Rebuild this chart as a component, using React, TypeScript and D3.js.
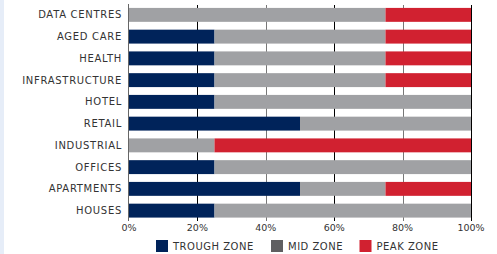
import React, { useEffect, useRef } from "react";
import * as d3 from "d3";

const categories = ["DATA CENTRES", "AGED CARE", "HEALTH", "INFRASTRUCTURE", "HOTEL", "RETAIL", "INDUSTRIAL", "OFFICES", "APARTMENTS", "HOUSES"];
const trough = [0, 25, 25, 25, 25, 50, 0, 25, 50, 25];
const mid = [75, 50, 50, 50, 75, 50, 25, 75, 25, 75];
const peak = [25, 25, 25, 25, 0, 0, 75, 0, 25, 0];
const ticks = [0, 20, 40, 60, 80, 100];
const zones = ["TROUGH ZONE", "MID ZONE", "PEAK ZONE"];

const W = 497, H = 254;
const FONT = "'DejaVu Sans', sans-serif";

export default function App() {
  const ref = useRef<SVGSVGElement>(null);

  useEffect(() => {
    const svg = d3.select(ref.current);
    svg.selectAll("*").remove();

    // light strip on the left edge
    svg.append("rect").attr("x", 0).attr("y", 0).attr("width", 4).attr("height", H).attr("fill", "#e6edf8");

    const x = d3.scaleLinear().domain([0, 100]).range([129, 471]);
    const y = d3.scaleBand().domain(categories).range([4, 221.5]).paddingInner(0.36).paddingOuter(0.18);

    const barCols = ["#00235a", "#a0a1a4", "#d12130"];
    const legendCols = ["#00235a", "#5f5f61", "#d12130"];

    const rows = categories.map((c, i) => ({ c, vals: [trough[i], mid[i], peak[i]] }));

    // gridlines
    svg.append("g").selectAll("line").data(ticks.slice(1)).enter().append("line")
      .attr("x1", d => Math.round(x(d)) + 0.5).attr("x2", d => Math.round(x(d)) + 0.5)
      .attr("y1", 5).attr("y2", 221)
      .attr("stroke", (d, i) => (i % 2 === 0 ? "#000" : "#777"))
      .attr("stroke-width", 1);

    // stacked bars
    const g = svg.append("g");
    rows.forEach(r => {
      let acc = 0;
      r.vals.forEach((v, k) => {
        if (v > 0) {
          g.append("rect")
            .attr("x", x(acc)).attr("width", x(acc + v) - x(acc))
            .attr("y", y(r.c)!).attr("height", y.bandwidth())
            .attr("fill", barCols[k]);
        }
        acc += v;
      });
    });

    // left axis line
    svg.append("line").attr("x1", 128.5).attr("x2", 128.5).attr("y1", 4).attr("y2", 221)
      .attr("stroke", "#666").attr("stroke-width", 1);

    // category labels
    svg.append("g").selectAll("text").data(categories).enter().append("text")
      .attr("x", 122).attr("y", d => y(d)! + y.bandwidth() / 2)
      .attr("dy", "0.35em").attr("text-anchor", "end")
      .style("font-family", FONT).style("font-size", "10px").style("letter-spacing", "0.7px").attr("fill", "#333")
      .text(d => d);

    // tick labels
    svg.append("g").selectAll("text").data(ticks).enter().append("text")
      .attr("x", d => x(d)).attr("y", 231)
      .attr("text-anchor", "middle")
      .style("font-family", FONT).style("font-size", "9.5px").attr("fill", "#333")
      .text(d => d + "%");

    // legend
    const lx = [156, 271, 359.5];
    const lg = svg.append("g");
    zones.forEach((z, i) => {
      lg.append("rect").attr("x", lx[i]).attr("y", 240).attr("width", 12).attr("height", 12).attr("fill", legendCols[i]);
      lg.append("text").attr("x", lx[i] + 17).attr("y", 246).attr("dy", "0.35em")
        .style("font-family", FONT).style("font-size", "10px").style("letter-spacing", "0.5px").attr("fill", "#333").text(z);
    });
  }, []);

  return (
    <svg ref={ref} width={W} height={H} style={{ position: "absolute", left: 0, top: 0, background: "#fff" }} />
  );
}
